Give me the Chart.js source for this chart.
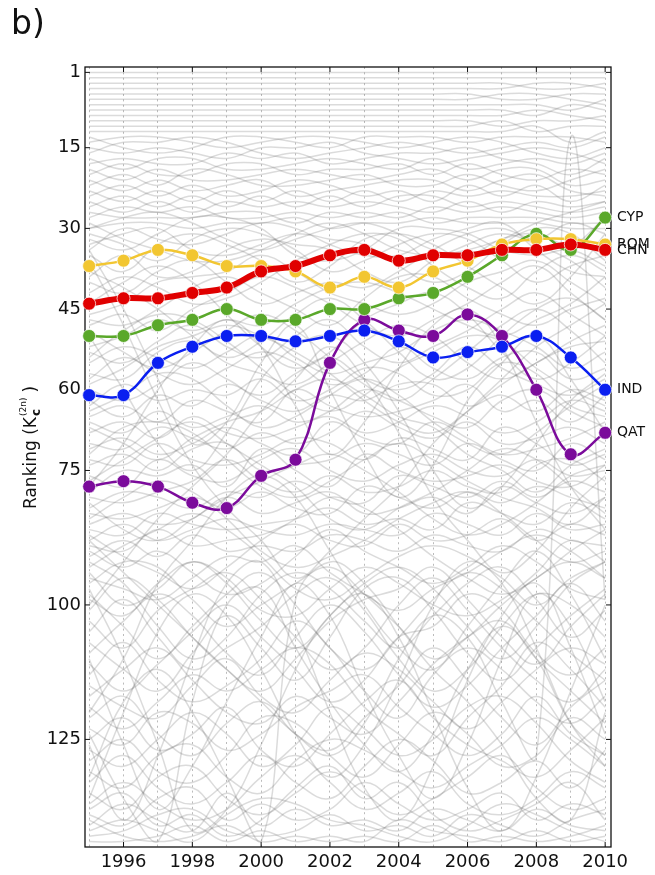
<!DOCTYPE html>
<html>
<head>
<meta charset="utf-8">
<script src="https://cdn.jsdelivr.net/npm/chart.js@4.4.0/dist/chart.umd.min.js"></script>
<style>
  html, body { margin: 0; padding: 0; background: #fff; }
  canvas { display: block; }
</style>
</head>
<body>
<canvas id="chart" width="655" height="875"></canvas>
<script>
// years on the x axis
const years = [1995,1996,1997,1998,1999,2000,2001,2002,2003,2004,2005,2006,2007,2008,2009,2010];
const yearLabels = [1996,1998,2000,2002,2004,2006,2008,2010];
const rankTicks = [1,15,30,45,60,75,100,125];

// highlighted countries (ranking per year)
const CYP = [50,50,48,47,45,47,47,45,45,43,42,39,35,31,34,28];
const ROM = [37,36,34,35,37,37,38,41,39,41,38,36,33,32,32,33];
const CHN = [44,43,43,42,41,38,37,35,34,36,35,35,34,34,33,34];
const IND = [61,61,55,52,50,50,51,50,49,51,54,53,52,50,54,60];
const QAT = [78,77,78,81,82,76,73,55,47,49,50,46,50,60,72,68];

// background countries, top of ranking (almost steady)
const top1 = [1,1,1,1,1,1,1,1,1,1,1,1,1,1,1,1];
const top2 = [2,2,2,2,2,2,2,2,2,2,2,2,2,2,2,2];
const top3 = [3,3,3,3,3,3,3,3,3,3,3,3,3,4,4,3];
const top4 = [4,4,4,4,4,4,4,4,4,4,4,4,4,3,3,4];
const top5 = [5,5,5,5,5,5,5,5,5,5,5,5,6,6,5,5];
const top6 = [6,6,6,6,6,6,6,6,6,6,6,6,5,5,6,7];
const top7 = [7,7,7,7,7,7,7,7,7,7,7,7,7,7,8,6];
const top8 = [8,8,8,8,8,8,8,8,8,8,8,8,8,9,7,8];
const top9 = [9,9,9,9,9,9,9,9,9,9,9,9,9,8,9,10];
const top10 = [10,10,10,10,10,10,10,10,10,10,10,10,11,10,10,9];
const top11 = [11,11,11,11,11,11,11,11,11,11,11,11,10,12,11,11];
const top12 = [12,12,12,12,12,12,12,12,12,12,12,12,12,11,14,12];

// ranks 13-30
const up13 = [14,13,13,14,15,14,13,13,14,15,14,13,14,16,17,15];
const up14 = [13,15,16,15,13,13,14,15,13,13,13,14,13,13,13,14];
const up15 = [16,14,14,13,14,16,17,16,15,14,15,16,15,14,15,13];
const up16 = [15,16,15,16,17,15,15,14,16,17,18,17,16,15,16,18];
const up17 = [18,17,18,18,16,17,16,18,17,16,16,15,17,18,20,17];
const up18 = [17,19,17,17,19,19,18,17,18,19,17,19,18,17,18,16];
const up19 = [20,18,20,20,18,18,20,19,19,18,20,18,20,21,19,20];
const up20 = [19,21,19,21,21,20,19,20,21,20,19,21,19,19,22,21];
const up21 = [22,20,22,19,20,22,22,21,20,22,22,20,22,23,21,19];
const up22 = [21,23,21,23,22,21,24,23,22,21,21,23,21,20,23,24];
const up23 = [24,22,24,22,24,23,21,22,24,23,25,22,24,22,25,22];
const up24 = [23,25,23,25,23,25,23,25,23,25,23,24,23,24,24,23];
const up25 = [26,24,26,24,26,24,26,24,26,24,24,26,25,26,27,26];
const up26 = [25,27,25,27,25,26,25,26,25,26,27,25,27,25,26,25];
const up27 = [28,26,27,26,28,28,27,28,27,28,26,27,26,27,28,27];
const up28 = [27,28,28,28,27,27,29,27,28,27,29,28,28,28,29,29];
const up29 = [30,29,29,30,29,29,28,30,29,29,28,29,29,29,30,30];
const up30 = [30,28,27,29,32,34,32,30,29,31,34,35,32,31,33,28];
const up31 = [32,34,31,28,28,30,35,36,34,30,30,31,34,35,34,37];
const up32 = [34,30,32,33,31,29,30,33,35,35,32,30,29,34,38,39];
const up33 = [29,32,34,36,36,34,31,29,31,34,35,34,32,29,27,25];

// ranks 30-100
const mid1 = [31,33,36,32,30,31,34,38,36,33,31,32,36,40,37,35];
const mid2 = [33,31,30,34,35,33,31,32,33,37,40,38,33,30,31,36];
const mid3 = [35,38,33,31,33,36,40,37,32,31,33,37,41,44,39,31];
const mid4 = [39,35,39,38,34,32,33,34,38,40,36,33,31,33,36,41];
const mid5 = [40,42,38,36,40,44,42,40,41,38,34,31,30,32,29,31];
const mid6 = [42,39,41,44,43,40,36,33,31,32,37,41,43,38,35,38];
const mid7 = [46,44,40,39,38,35,38,42,44,46,44,40,38,36,40,44];
const mid8 = [47,48,45,41,39,42,45,48,43,39,39,43,46,48,45,43];
const mid9 = [48,46,49,45,42,39,41,44,48,50,47,44,40,37,42,47];
const mid10 = [52,50,47,49,47,48,44,41,40,42,45,48,50,47,44,39];
const mid11 = [53,55,51,48,52,54,50,47,52,55,52,49,45,42,46,50];
const mid12 = [55,52,54,56,53,50,54,57,55,53,49,47,49,52,56,53];
const mid13 = [57,58,53,51,55,57,59,55,51,48,50,55,58,55,51,48];
const mid14 = [58,54,57,59,56,53,55,59,57,52,56,58,54,53,58,56];
const mid15 = [60,62,59,55,58,61,57,54,58,60,57,52,56,59,61,58];
const mid16 = [63,59,62,60,61,58,62,60,56,57,61,60,55,57,63,65];
const mid17 = [62,65,61,63,59,62,64,61,62,59,59,63,61,64,60,62];
const mid18 = [65,63,66,62,64,66,60,63,65,64,62,59,64,62,66,61];
const mid19 = [66,68,64,67,65,63,66,64,60,62,65,67,62,60,64,67];
const mid20 = [68,66,69,65,68,69,67,65,68,66,63,65,68,66,62,64];
const mid21 = [70,71,67,69,71,68,70,68,64,67,69,66,70,69,67,70];
const mid22 = [71,69,72,70,67,70,72,66,69,70,66,69,72,71,69,66];
const mid23 = [73,74,70,73,74,72,69,70,73,69,71,73,67,70,74,72];
const mid24 = [74,72,75,71,70,75,74,73,70,72,74,70,73,75,70,73];
const mid25 = [76,78,73,76,77,73,71,75,77,74,72,75,76,73,76,75];
const mid26 = [79,75,76,74,78,71,75,78,72,75,77,76,74,77,78,74];
const mid27 = [80,81,79,77,73,77,79,76,79,78,75,78,79,74,73,77];
const mid28 = [82,79,80,82,79,80,77,80,81,76,78,80,77,80,77,79];
const mid29 = [83,84,82,80,82,79,82,83,78,80,82,79,81,78,80,82];
const mid30 = [85,83,85,84,80,83,81,79,83,82,80,83,78,81,83,80];
const mid31 = [86,87,83,85,86,85,84,82,85,84,86,81,83,85,81,84];
const mid32 = [88,85,88,86,84,86,87,85,86,87,83,85,87,83,86,85];
const mid33 = [89,90,86,89,88,87,85,88,89,85,88,87,84,88,85,87];
const mid34 = [91,88,91,87,90,89,90,87,88,90,87,89,90,86,88,89];
const mid35 = [38,41,45,50,54,51,46,43,47,53,58,56,50,45,43,47];
const mid36 = [44,40,37,40,46,52,56,53,47,44,42,46,53,58,55,50];
const mid37 = [49,53,56,53,49,46,49,54,59,62,58,53,48,45,49,55];
const mid38 = [54,49,46,47,51,56,61,64,61,56,53,50,51,56,60,63];
const mid39 = [59,56,52,50,48,50,53,57,62,66,68,64,59,55,52,51];
const mid40 = [64,61,57,58,63,67,65,61,58,61,66,70,72,68,63,59];
const mid41 = [67,70,73,69,66,64,60,58,61,65,67,72,75,79,74,71];
const mid42 = [72,67,66,68,73,78,80,77,73,70,73,77,80,82,85,80];
const mid43 = [77,73,69,66,70,74,78,84,86,82,79,75,71,73,78,83];
const mid44 = [81,86,88,84,80,77,74,72,75,79,84,87,85,81,76,74];
const mid45 = [84,80,77,79,84,90,93,91,88,84,81,79,83,88,92,90];
const mid46 = [87,91,94,97,93,88,84,80,82,86,91,95,98,95,90,86];
const mid47 = [90,93,90,94,98,96,91,86,90,93,96,93,89,92,97,99];
const mid48 = [93,89,86,83,86,91,97,99,95,91,89,91,95,100,95,92];
const mid49 = [95,97,99,95,91,92,89,94,98,101,97,94,90,87,90,95];
const mid50 = [99,102,96,92,95,101,102,97,93,96,100,102,99,94,88,92];

// big movers
const jump1 = [34,45,58,70,66,55,48,60,72,80,74,62,55,50,58,68];
const jump2 = [78,70,60,52,47,52,63,72,66,56,48,45,52,66,78,86];
const jump3 = [50,60,70,75,68,58,52,50,55,64,75,82,78,70,62,57];
const jump4 = [100,92,84,78,72,64,58,52,58,68,80,88,94,90,82,76];
const jump5 = [36,48,62,74,82,88,95,90,84,78,70,64,58,52,48,44];
const jump6 = [120,110,96,88,80,76,80,90,100,108,112,104,96,90,98,110];
const jump7 = [136,120,105,98,102,112,124,132,126,114,100,92,96,108,122,130];
const jump8 = [110,126,138,130,118,106,96,102,116,128,136,126,110,98,104,118];
const jump9 = [126,140,128,110,96,92,104,120,134,140,130,114,102,96,108,124];
const jump10 = [97,110,126,142,138,126,112,102,98,106,120,134,142,132,116,100];
const jump11 = [132,118,112,120,132,144,99,92,96,104,112,118,126,136,140,120];
const jump12 = [124,136,144,118,100,97,108,118,126,131,124,112,104,110,122,128];
const jump13 = [88,94,100,106,112,118,124,128,122,110,102,106,118,128,13,99];

// ranks 90-145
const low1 = [92,96,104,110,106,98,94,97,103,108,102,96,93,99,106,101];
const low2 = [94,100,97,92,96,103,108,102,96,93,97,104,110,104,96,92];
const low3 = [96,92,93,99,104,100,96,93,98,104,110,106,100,95,92,95];
const low4 = [98,104,110,104,98,94,100,108,112,106,99,94,97,103,109,114];
const low5 = [101,95,99,106,112,116,110,103,99,97,93,99,106,111,104,98];
const low6 = [103,108,101,97,94,99,106,112,108,100,95,101,108,114,118,112];
const low7 = [105,99,106,112,108,104,98,95,101,110,116,112,104,98,100,106];
const low8 = [107,112,116,109,102,108,114,106,97,95,101,109,114,108,102,97];
const low9 = [109,103,98,102,109,113,106,100,105,113,119,115,108,102,96,103];
const low10 = [111,116,111,105,100,106,112,118,114,106,104,98,101,109,113,108];
const low11 = [113,107,114,118,115,110,103,108,116,121,113,108,112,118,122,117];
const low12 = [115,119,121,115,110,117,120,114,109,112,118,123,118,112,108,111];
const low13 = [117,112,108,114,120,122,117,121,124,118,111,106,103,110,116,122];
const low14 = [119,123,118,113,116,112,108,111,119,124,128,121,115,107,112,119];
const low15 = [121,117,124,128,122,118,124,127,121,115,108,114,121,126,119,114];
const low16 = [123,126,120,122,127,124,119,116,113,119,124,128,124,117,124,128];
const low17 = [125,121,127,124,119,127,130,124,118,114,121,126,129,132,127,121];
const low18 = [127,130,125,120,124,130,126,119,123,128,125,119,117,122,129,133];
const low19 = [129,125,131,133,128,121,122,128,132,126,120,124,130,128,121,125];
const low20 = [131,134,128,126,132,135,129,125,127,131,134,130,126,121,125,130];
const low21 = [133,128,134,137,133,128,133,136,130,125,129,135,133,129,134,127];
const low22 = [135,138,132,130,136,139,135,131,135,139,136,132,128,134,138,136];
const low23 = [137,133,137,140,138,132,128,133,138,135,131,137,139,136,131,134];
const low24 = [139,141,136,134,140,137,140,138,133,137,140,138,135,140,137,139];
const low25 = [141,137,140,142,135,141,138,141,140,142,138,140,142,138,141,142];
const low26 = [143,142,139,138,142,143,142,139,142,141,143,139,141,143,140,138];
const low27 = [144,144,143,141,144,142,144,143,144,140,142,143,144,142,144,143];
const low28 = [142,140,142,144,139,136,137,140,141,143,144,141,137,139,142,144];
const low29 = [140,143,144,143,141,144,143,144,143,144,141,144,143,144,143,141];
const low30 = [138,135,141,139,143,140,134,130,136,133,139,142,140,137,133,140];

const background = [
  top1,top2,top3,top4,top5,top6,top7,top8,top9,top10,top11,top12,
  up13,up14,up15,up16,up17,up18,up19,up20,up21,up22,up23,up24,up25,up26,up27,up28,up29,up30,up31,up32,up33,
  mid1,mid2,mid3,mid4,mid5,mid6,mid7,mid8,mid9,mid10,mid11,mid12,mid13,mid14,mid15,mid16,mid17,mid18,mid19,mid20,
  mid21,mid22,mid23,mid24,mid25,mid26,mid27,mid28,mid29,mid30,mid31,mid32,mid33,mid34,mid35,mid36,mid37,mid38,mid39,
  mid40,mid41,mid42,mid43,mid44,mid45,mid46,mid47,mid48,mid49,mid50,
  jump1,jump2,jump3,jump4,jump5,jump6,jump7,jump8,jump9,jump10,jump11,jump12,jump13,
  low1,low2,low3,low4,low5,low6,low7,low8,low9,low10,low11,low12,low13,low14,low15,low16,low17,low18,low19,low20,
  low21,low22,low23,low24,low25,low26,low27,low28,low29,low30
];

const highlighted = [
  {name: "QAT", values: QAT, color: "#7b0b9b", width: 2.5, order: 6},
  {name: "IND", values: IND, color: "#0a1ff0", width: 2.5, order: 5},
  {name: "CYP", values: CYP, color: "#5aa82a", width: 2.5, order: 4},
  {name: "ROM", values: ROM, color: "#f2c631", width: 2.5, order: 3},
  {name: "CHN", values: CHN, color: "#e00000", width: 6, order: 1},
];

function toPoints(values) {
  return values.map((v, i) => ({x: years[i], y: v}));
}

let datasets = [];
background.forEach(values => {
  datasets.push({
    data: toPoints(values),
    borderColor: "rgba(90, 90, 90, 0.22)",
    borderWidth: 1.5,
    pointRadius: 0,
    tension: 0.4,
    order: 100,
  });
});
highlighted.forEach(h => {
  datasets.push({
    data: toPoints(h.values),
    borderColor: h.color,
    backgroundColor: h.color,
    borderWidth: h.width,
    pointRadius: 6.5,
    pointBorderColor: "rgba(255, 255, 255, 0.7)",
    pointBorderWidth: 1,
    tension: 0.4,
    clip: false,
    order: h.order,
  });
});

function line(ctx, x1, y1, x2, y2) {
  ctx.beginPath();
  ctx.moveTo(x1, y1);
  ctx.lineTo(x2, y2);
  ctx.stroke();
}

const decor = {
  id: "decor",
  beforeDatasetsDraw(chart) {
    const {ctx, chartArea: a, scales: {x, y}} = chart;
    ctx.save();
    ctx.strokeStyle = "#111";
    ctx.lineWidth = 1.3;
    ctx.strokeRect(a.left, a.top, a.right - a.left, a.bottom - a.top);
    ctx.lineWidth = 1;
    yearLabels.forEach(v => {
      const px = x.getPixelForValue(v);
      line(ctx, px, a.bottom, px, a.bottom - 5);
      line(ctx, px, a.top, px, a.top + 5);
    });
    rankTicks.forEach(v => {
      const py = y.getPixelForValue(v);
      line(ctx, a.left, py, a.left + 5, py);
      line(ctx, a.right, py, a.right - 5, py);
    });
    ctx.restore();
  },
  afterDraw(chart) {
    const {ctx, chartArea: a, scales: {y}} = chart;
    ctx.save();
    ctx.fillStyle = "#111";

    // panel letter
    ctx.font = "33px 'DejaVu Sans'";
    ctx.textBaseline = "alphabetic";
    ctx.fillText("b)", 11, 34);

    // country names at the right end
    ctx.font = "14px 'DejaVu Sans'";
    ctx.textBaseline = "middle";
    highlighted.forEach(h => {
      const last = h.values[h.values.length - 1];
      ctx.fillText(h.name, a.right + 6, y.getPixelForValue(last));
    });

    // y axis title with sub- and superscript
    ctx.translate(36, 509);
    ctx.rotate(-Math.PI / 2);
    ctx.textBaseline = "alphabetic";
    ctx.font = "17px 'DejaVu Sans'";
    const main = "Ranking (K";
    ctx.fillText(main, 0, 0);
    let pos = ctx.measureText(main).width + 1;
    ctx.font = "bold 12px 'DejaVu Sans'";
    ctx.fillText("c", pos, 4);
    const wc = ctx.measureText("c").width;
    ctx.font = "9px 'DejaVu Sans'";
    ctx.fillText("(2n)", pos, -10);
    const ws = ctx.measureText("(2n)").width;
    pos += Math.max(wc, ws) + 5;
    ctx.font = "17px 'DejaVu Sans'";
    ctx.fillText(")", pos, 0);
    ctx.restore();
  }
};

new Chart(document.getElementById("chart"), {
  type: "line",
  data: {datasets: datasets},
  options: {
    responsive: false,
    animation: false,
    devicePixelRatio: 1,
    events: [],
    layout: {padding: {top: 67, right: 44, left: 0, bottom: 0}},
    plugins: {legend: {display: false}, tooltip: {enabled: false}},
    scales: {
      x: {
        type: "linear",
        min: 1994.88,
        max: 2010.17,
        afterBuildTicks: s => { s.ticks = years.map(v => ({value: v})); },
        afterFit: s => { s.height = 28; },
        ticks: {
          autoSkip: false,
          maxRotation: 0,
          padding: 5,
          color: "#111",
          font: {family: "DejaVu Sans", size: 18},
          callback: v => (v % 2 === 0 ? String(v) : ""),
        },
        grid: {
          color: "rgba(60, 60, 60, 0.35)",
          lineWidth: 1,
          drawTicks: false,
        },
        border: {display: false, dash: [2, 3.4]},
      },
      y: {
        type: "linear",
        reverse: true,
        min: 0,
        max: 145,
        afterBuildTicks: s => { s.ticks = rankTicks.map(v => ({value: v})); },
        afterFit: s => { s.width = 85; },
        ticks: {
          padding: 4,
          color: "#111",
          font: {family: "DejaVu Sans", size: 18},
        },
        grid: {display: false, drawTicks: false},
        border: {display: false},
      },
    },
  },
  plugins: [decor],
});
</script>
</body>
</html>
